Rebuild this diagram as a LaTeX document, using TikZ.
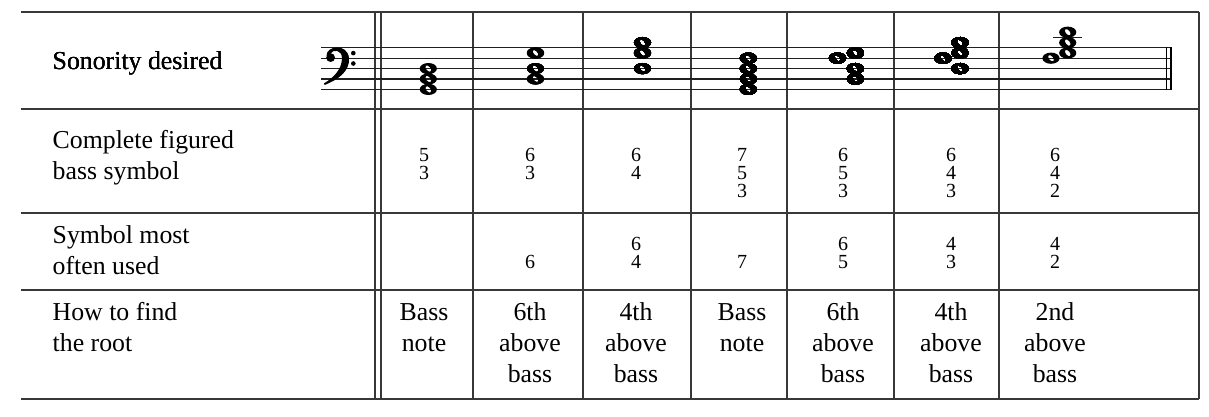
\documentclass[tikz,border=0pt]{standalone}
\usepackage{fontspec}
\setmainfont{Liberation Serif}
\newcommand\wholenote[2]{%
  \fill[black,even odd rule] (#1,#2) ellipse [x radius=8.6, y radius=5.6]
     (#1,#2) ellipse [x radius=2.1, y radius=3.7, rotate=40];}
\begin{document}
\begin{tikzpicture}[x=1pt,y=-1pt,
  grid/.style={line width=1.2pt, draw=black!78},
  staffline/.style={line width=1.1pt, draw=black!88},
  lab/.style={anchor=base west, inner sep=0pt, font=\fontsize{25.8}{31}\selectfont},
  cell/.style={anchor=base, inner sep=0pt, font=\fontsize{25.8}{31}\selectfont},
  fig/.style={anchor=base, inner sep=0pt, font=\fontsize{20}{18}\selectfont}]
\useasboundingbox (0,0) rectangle (1209,417);
% table rules
\foreach \y in {12,109,213,290,399} \draw[grid] (21,\y) -- (1199,\y);
\foreach \x in {375,381,473,583,691,787,894,999,1199} \draw[grid] (\x,12) -- (\x,399);
% staff
\foreach \k in {0,...,4} \draw[staffline] (321,{47.8+10.4*\k}) -- (1171,{47.8+10.4*\k});
\draw[line width=1.4pt] (1166.3,47.2) -- (1166.3,90);
\draw[line width=2.2pt] (1171.3,47.2) -- (1171.3,90);
% bass clef
\fill (326.5,56) .. controls (326,45.5) and (347.5,43) .. (349,58)
  .. controls (350,72) and (337,80) .. (324.6,85)
  -- (324,83.4)
  .. controls (334,77.5) and (342,69) .. (342,58)
  .. controls (341.8,50) and (333.5,48.5) .. (330,54) -- cycle;
\fill (330.6,57.6) circle [radius=4.4];
\fill (353.3,53.1) circle [radius=2.3];
\fill (353.3,63.5) circle [radius=2.3];
% chords (step 0 = bottom line)
\foreach \s in {0,2,4} \wholenote{428.3}{89.4-5.2*\s}
\foreach \s in {2,4,7} \wholenote{535.5}{89.4-5.2*\s}
\foreach \s in {4,7,9} \wholenote{642.5}{89.4-5.2*\s}
\foreach \s in {0,2,4,6} \wholenote{748.3}{89.4-5.2*\s}
\wholenote{837.5}{58.2}
\foreach \s in {2,4,7} \wholenote{855.3}{89.4-5.2*\s}
\wholenote{943}{58.2}
\foreach \s in {4,7,9} \wholenote{960}{89.4-5.2*\s}
\draw[staffline] (1053,37.4) -- (1081.5,37.4);
\wholenote{1051}{58.2}
\foreach \s in {7,9,11} \wholenote{1067.7}{89.4-5.2*\s}
% row labels
\node[lab] (l1) at (52.5,70) {Sonority desired};
\node[lab] (l2a) at (52.5,148.3) {Complete figured};
\node[lab] (l2b) at (52.5,179.3) {bass symbol};
\node[lab] (l3a) at (52.5,243.3) {Symbol most};
\node[lab] (l3b) at (52.5,274.3) {often used};
\node[lab] (l4a) at (52.5,320.3) {How to find};
\node[lab] (l4b) at (52.5,351.3) {the root};
% complete figured bass symbols
\foreach \d [count=\i] in {5,3} \node[fig] (ca\i) at (424,{143+18*\i}) {\d};
\foreach \d [count=\i] in {6,3} \node[fig] (cb\i) at (530,{143+18*\i}) {\d};
\foreach \d [count=\i] in {6,4} \node[fig] (cc\i) at (636,{143+18*\i}) {\d};
\foreach \d [count=\i] in {7,5,3} \node[fig] (cd\i) at (742,{143+18*\i}) {\d};
\foreach \d [count=\i] in {6,5,3} \node[fig] (ce\i) at (843,{143+18*\i}) {\d};
\foreach \d [count=\i] in {6,4,3} \node[fig] (cf\i) at (951,{143+18*\i}) {\d};
\foreach \d [count=\i] in {6,4,2} \node[fig] (cg\i) at (1055,{143+18*\i}) {\d};
% symbols most often used
\node[fig] (ub) at (530,268.3) {6};
\foreach \d [count=\i] in {6,4} \node[fig] (uc\i) at (636,{233.1+17.6*\i}) {\d};
\node[fig] (ud) at (742,268.3) {7};
\foreach \d [count=\i] in {6,5} \node[fig] (ue\i) at (843,{233.1+17.6*\i}) {\d};
\foreach \d [count=\i] in {4,3} \node[fig] (uf\i) at (951,{233.1+17.6*\i}) {\d};
\foreach \d [count=\i] in {4,2} \node[fig] (ug\i) at (1055,{233.1+17.6*\i}) {\d};
% how to find the root
\foreach \w [count=\i] in {Bass,note} \node[cell] (ra\i) at (424,{289.7+31*\i}) {\w};
\foreach \w [count=\i] in {6th,above,bass} \node[cell] (rb\i) at (530,{289.7+31*\i}) {\w};
\foreach \w [count=\i] in {4th,above,bass} \node[cell] (rc\i) at (636,{289.7+31*\i}) {\w};
\foreach \w [count=\i] in {Bass,note} \node[cell] (rd\i) at (742,{289.7+31*\i}) {\w};
\foreach \w [count=\i] in {6th,above,bass} \node[cell] (re\i) at (843,{289.7+31*\i}) {\w};
\foreach \w [count=\i] in {4th,above,bass} \node[cell] (rf\i) at (951,{289.7+31*\i}) {\w};
\foreach \w [count=\i] in {2nd,above,bass} \node[cell] (rg\i) at (1055,{289.7+31*\i}) {\w};
\end{tikzpicture}
\end{document}
